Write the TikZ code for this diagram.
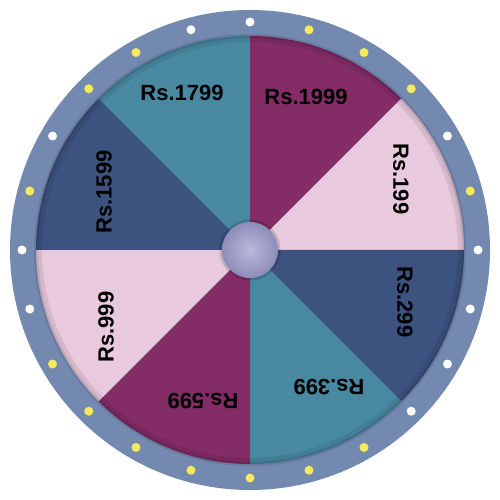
\documentclass[tikz,border=0pt]{standalone}
\usepackage{fontspec}
\setmainfont{Liberation Sans}
\usepackage{tikz}
\usetikzlibrary{positioning}
\definecolor{RimBlue}{HTML}{7489B0}
\definecolor{PlumWedge}{HTML}{832C66}
\definecolor{BlushWedge}{HTML}{E8C9DD}
\definecolor{NavyWedge}{HTML}{3C527F}
\definecolor{TealWedge}{HTML}{4889A1}
\definecolor{BulbYellow}{HTML}{F4EA5C}
\definecolor{HubLilac}{HTML}{9C9CCD}

\begin{document}
\begin{tikzpicture}[
    x=1pt, y=1pt,
    price/.style={font=\bfseries\fontsize{22}{22}\selectfont, inner sep=0pt},
    bulb/.style={circle, minimum size=9pt, inner sep=0pt},
    whitebulb/.style={bulb, fill=white},
    yellowbulb/.style={bulb, fill=BulbYellow},
    hub/.style={circle, minimum size=56pt, inner sep=0pt,
      inner color=HubLilac!70!white, outer color=HubLilac!90!black}
]
  \useasboundingbox (-250,-250) rectangle (250,250);
  % Rim
  \fill[RimBlue] (0,0) circle (240);
  \fill[black, opacity=0.10] (0,0) circle (216);
  % Wedges
  \fill[PlumWedge]  (0,0) -- (90:214)  arc (90:45:214)   -- cycle;
  \fill[BlushWedge] (0,0) -- (45:214)  arc (45:0:214)    -- cycle;
  \fill[NavyWedge]  (0,0) -- (0:214)   arc (0:-45:214)   -- cycle;
  \fill[TealWedge]  (0,0) -- (-45:214) arc (-45:-90:214) -- cycle;
  \fill[PlumWedge]  (0,0) -- (270:214) arc (270:225:214) -- cycle;
  \fill[BlushWedge] (0,0) -- (225:214) arc (225:180:214) -- cycle;
  \fill[NavyWedge]  (0,0) -- (180:214) arc (180:135:214) -- cycle;
  \fill[TealWedge]  (0,0) -- (135:214) arc (135:90:214)  -- cycle;
  % Inner shadow along the rim
  \draw[black, opacity=0.08, line width=6pt] (0,0) circle (211);
  \draw[black, opacity=0.10, line width=2pt] (0,0) circle (213);
  % Bulbs
  \node[whitebulb]  (b0)   at (0:228)   {}; \node[yellowbulb] (b15)  at (15:228)  {};
  \node[whitebulb]  (b30)  at (30:228)  {}; \node[yellowbulb] (b45)  at (45:228)  {};
  \node[yellowbulb] (b60)  at (60:228)  {}; \node[yellowbulb] (b75)  at (75:228)  {};
  \node[whitebulb]  (b90)  at (90:228)  {}; \node[whitebulb]  (b105) at (105:228) {};
  \node[yellowbulb] (b120) at (120:228) {}; \node[yellowbulb] (b135) at (135:228) {};
  \node[whitebulb]  (b150) at (150:228) {}; \node[yellowbulb] (b165) at (165:228) {};
  \node[whitebulb]  (b180) at (180:228) {}; \node[whitebulb]  (b195) at (195:228) {};
  \node[yellowbulb] (b210) at (210:228) {}; \node[yellowbulb] (b225) at (225:228) {};
  \node[yellowbulb] (b240) at (240:228) {}; \node[yellowbulb] (b255) at (255:228) {};
  \node[yellowbulb] (b270) at (270:228) {}; \node[yellowbulb] (b285) at (285:228) {};
  \node[yellowbulb] (b300) at (300:228) {}; \node[whitebulb]  (b315) at (315:228) {};
  \node[whitebulb]  (b330) at (330:228) {}; \node[whitebulb]  (b345) at (345:228) {};
  % Prices
  \node[price]             (p1999) at (56,153)    {Rs.1999};
  \node[price, rotate=-90] (p199)  at (151,71)    {Rs.199};
  \node[price, rotate=-90] (p299)  at (155,-52)   {Rs.299};
  \node[price, rotate=180] (p399)  at (79,-137)   {Rs.399};
  \node[price, rotate=180] (p599)  at (-47,-151)  {Rs.599};
  \node[price, rotate=90]  (p999)  at (-144,-77)  {Rs.999};
  \node[price, rotate=90]  (p1599) at (-146,58)   {Rs.1599};
  \node[price]             (p1799) at (-68,157)   {Rs.1799};
  % Hub
  \fill[black, opacity=0.15] (0,0) circle (30.5);
  \node[hub] (centre) at (0,0) {};
\end{tikzpicture}
\end{document}
